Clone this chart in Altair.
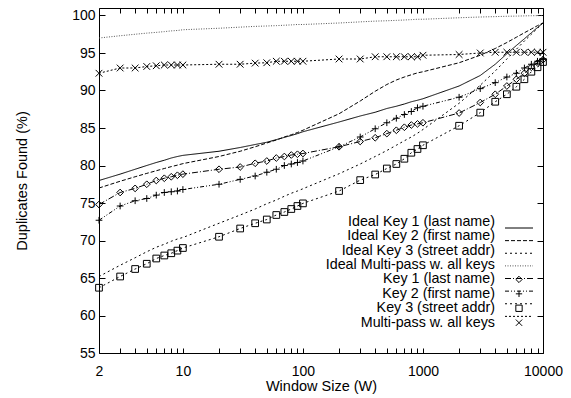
import altair as alt
import pandas as pd

# ---------------- data ----------------
window = [2, 3, 4, 5, 6, 7, 8, 9, 10,
          20, 30, 40, 50, 60, 70, 80, 90, 100,
          200, 300, 400, 500, 600, 700, 800, 900, 1000,
          2000, 3000, 4000, 5000, 6000, 7000, 8000, 9000, 10000]

series_names = ["Ideal Key 1 (last name)", "Ideal Key 2 (first name)",
                "Ideal Key 3 (street addr)", "Ideal Multi-pass w. all keys",
                "Key 1 (last name)", "Key 2 (first name)",
                "Key 3 (street addr)", "Multi-pass w. all keys"]

ideal_key1 = [78.0, 78.85, 79.5, 80.0, 80.4, 80.7, 81.0, 81.2, 81.35,
              81.9, 82.4, 82.8, 83.1, 83.45, 83.75, 84.0, 84.25, 84.5,
              85.8, 86.6, 87.1, 87.6, 87.9, 88.2, 88.5, 88.7, 88.9,
              90.6, 92.0, 93.5, 94.9, 96.0, 96.9, 97.7, 98.4, 99.0]
ideal_key2 = [77.0, 77.9, 78.5, 78.95, 79.3, 79.6, 79.85, 80.05, 80.25,
              81.2, 81.9, 82.5, 83.0, 83.4, 83.8, 84.1, 84.4, 84.7,
              86.9, 88.6, 89.9, 90.8, 91.4, 91.8, 92.1, 92.35, 92.5,
              93.7, 94.7, 95.6, 96.4, 97.1, 97.7, 98.2, 98.65, 99.0]
ideal_key3 = [65.2, 66.7, 67.7, 68.5, 69.1, 69.5, 69.9, 70.2, 70.4,
              72.3, 73.4, 74.2, 74.9, 75.4, 75.9, 76.3, 76.6, 76.9,
              78.9, 80.2, 81.2, 82.0, 82.7, 83.3, 83.8, 84.3, 84.8,
              88.3, 90.7, 92.6, 94.2, 95.5, 96.6, 97.5, 98.3, 99.0]
ideal_multi = [97.0, 97.3, 97.5, 97.65, 97.75, 97.85, 97.95, 98.0, 98.1,
               98.3, 98.45, 98.55, 98.6, 98.65, 98.7, 98.75, 98.8, 98.8,
               99.0, 99.15, 99.25, 99.3, 99.35, 99.4, 99.45, 99.5, 99.5,
               99.7, 99.8, 99.85, 99.9, 99.92, 99.95, 99.97, 99.98, 100.0]
key1 = [74.8, 76.4, 76.95, 77.5, 78.0, 78.3, 78.5, 78.7, 78.85,
        79.5, 79.8, 80.3, 80.6, 81.0, 81.2, 81.4, 81.5, 81.6,
        82.5, 83.2, 83.7, 84.25, 84.7, 85.1, 85.4, 85.55, 85.7,
        87.0, 88.4, 89.5, 90.6, 91.5, 92.3, 93.1, 93.7, 94.1]
key2 = [72.7, 74.6, 75.3, 75.6, 76.05, 76.4, 76.5, 76.6, 76.8,
        77.5, 78.15, 78.6, 79.1, 79.5, 80.0, 80.2, 80.4, 80.6,
        82.5, 83.8, 84.9, 85.7, 86.3, 86.8, 87.2, 87.7, 87.9,
        89.1, 90.25, 91.05, 91.8, 92.3, 93.0, 93.5, 93.9, 94.15]
key3 = [63.7, 65.2, 66.2, 66.9, 67.6, 68.0, 68.3, 68.65, 69.0,
        70.5, 71.6, 72.3, 72.8, 73.4, 73.8, 74.2, 74.6, 74.95,
        76.6, 78.05, 78.8, 79.6, 80.2, 80.9, 81.7, 82.2, 82.7,
        85.3, 87.05, 88.5, 89.5, 90.5, 91.5, 92.5, 93.1, 93.8]
multi = [92.3, 93.0, 93.0, 93.2, 93.3, 93.4, 93.4, 93.4, 93.4,
         93.5, 93.5, 93.65, 93.7, 93.9, 93.9, 93.9, 93.9, 93.9,
         94.2, 94.2, 94.5, 94.5, 94.5, 94.5, 94.5, 94.5, 94.7,
         94.8, 95.0, 95.1, 95.1, 95.1, 95.1, 95.1, 95.1, 95.1]

x_ticks = window
x_labels = [2, 10, 100, 1000, 10000]
y_ticks = [55, 60, 65, 70, 75, 80, 85, 90, 95, 100]

# ---------------- styles ----------------
FONT = "Liberation Sans"
dash_styles = [[1, 0], [4, 2], [2, 3], [1, 1.5], [6, 2, 1, 2], [4, 2, 1, 2, 1, 2], [2, 3], [2, 2]]
line_colors = ["black", "black", "black", "#555555", "black", "black", "black", "black"]
marker_names = series_names[4:]
marker_shapes = ["diamond", "M-1,0L1,0M0,-1L0,1", "square", "M-1,-1L1,1M-1,1L1,-1"]

rows = []
for name, vals in zip(series_names, [ideal_key1, ideal_key2, ideal_key3, ideal_multi,
                                     key1, key2, key3, multi]):
    for w, v in zip(window, vals):
        rows.append({"window": w, "pct": v, "series": name})
df = pd.DataFrame(rows)
df_m = df[df["series"].isin(marker_names)]
legend_df = pd.DataFrame({"series": series_names})
legend_m = pd.DataFrame({"series": marker_names})

xscale = alt.Scale(type="log", domain=[2, 10000], nice=False)
yscale = alt.Scale(domain=[55, 101], nice=False, zero=False)
dash = alt.StrokeDash("series:N", scale=alt.Scale(domain=series_names, range=dash_styles), legend=None)
color = alt.Color("series:N", scale=alt.Scale(domain=series_names, range=line_colors), legend=None)
shape = alt.Shape("series:N", scale=alt.Scale(domain=marker_names, range=marker_shapes), legend=None)


def legend_y():
    return alt.Y("series:N", scale=alt.Scale(domain=series_names, range=[213.7, 314.7], padding=0),
                 axis=None)


label_expr = f"indexof({x_labels}, datum.value) >= 0 ? datum.label : ''"

lines = alt.Chart(df).mark_line(strokeWidth=1).encode(
    x=alt.X("window:Q", scale=xscale,
            axis=alt.Axis(orient="bottom", offset=-5, tickSize=5, domain=False, grid=False,
                          values=x_ticks, format="d", labelExpr=label_expr,
                          labelOverlap=False, labelFlush=False, labelPadding=11,
                          labelFontSize=14, title="Window Size (W)", titleFontSize=14.5,
                          titleY=38, titleBaseline="middle")),
    y=alt.Y("pct:Q", scale=yscale,
            axis=alt.Axis(orient="left", offset=-6, tickSize=6, domain=False, grid=False,
                          values=y_ticks, labelPadding=4, labelFontSize=14,
                          title="Duplicates Found (%)", titleFontSize=14.5,
                          titleX=-83, titleBaseline="middle")),
    strokeDash=dash,
    color=color,
)

markers = alt.Chart(df_m).mark_point(filled=False, size=45, strokeWidth=1, color="black",
                                     opacity=1).encode(
    x=alt.X("window:Q", scale=xscale, axis=None),
    y=alt.Y("pct:Q", scale=yscale, axis=None),
    shape=shape,
)

mirror = alt.Chart(df_m).mark_point(opacity=0).encode(
    x=alt.X("window:Q", scale=xscale,
            axis=alt.Axis(orient="top", offset=-5, tickSize=5, domain=False, grid=False,
                          values=x_ticks, labels=False, title="")),
    y=alt.Y("pct:Q", scale=yscale,
            axis=alt.Axis(orient="right", offset=-6, tickSize=6, domain=False, grid=False,
                          values=y_ticks, labels=False, title="")),
)

leg_rule = alt.Chart(legend_df).mark_rule(strokeWidth=1).encode(
    x=alt.value(406), x2=alt.value(434), y=legend_y(), strokeDash=dash, color=color,
)
leg_pts = alt.Chart(legend_m).mark_point(filled=False, size=40, strokeWidth=1, color="black",
                                         opacity=1).encode(
    x=alt.value(420), y=legend_y(), shape=shape,
)
leg_text = alt.Chart(legend_df).mark_text(align="right", baseline="middle", fontSize=14.3,
                                          font=FONT, color="black").encode(
    x=alt.value(396), y=legend_y(), text="series:N",
)

chart = alt.layer(lines, markers, mirror, leg_rule, leg_pts, leg_text).resolve_scale(
    y="independent"
).resolve_axis(
    x="independent", y="independent"
).properties(
    width=444, height=345,
    autosize=alt.AutoSizeParams(type="none"),
    padding={"left": 91, "top": 0, "right": 20, "bottom": 45},
).configure_view(
    stroke="black", strokeWidth=1
).configure_axis(
    labelFont=FONT, titleFont=FONT, labelColor="black", titleColor="black",
    tickColor="black", titleFontWeight="normal", tickWidth=1
)

chart.save("out.html", embed_options={"renderer": "svg", "actions": False})
